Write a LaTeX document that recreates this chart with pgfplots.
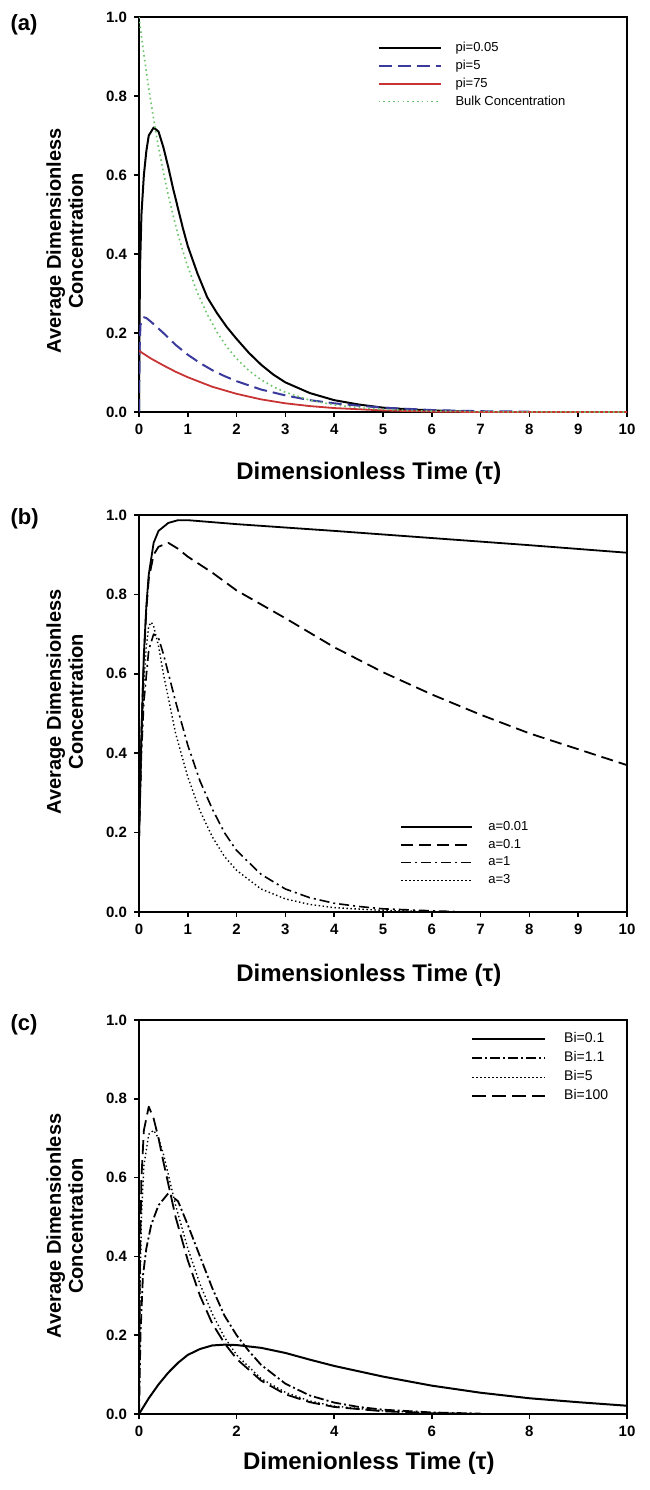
\documentclass[border=0pt]{standalone}
\usepackage{fontspec}
\setmainfont{Liberation Sans}
\usepackage{pgfplots}
\pgfplotsset{compat=1.18}
\definecolor{cblue}{HTML}{3A3A9C}
\definecolor{cred}{HTML}{C83434}
\definecolor{cgreen}{HTML}{6CC46C}
\pgfplotsset{
  panel/.style={
    scale only axis, width=244pt, clip mode=individual,
    xmin=0, xmax=10, ymin=0, ymax=1,
    axis line style={line width=1pt},
    tick style={line width=0.8pt, black},
    major tick length=2.5pt,
    tick align=outside, xtick pos=bottom, ytick pos=left,
    ytick={0,0.2,0.4,0.6,0.8,1.0},
    yticklabel style={/pgf/number format/fixed, /pgf/number format/precision=1, /pgf/number format/fixed zerofill},
    /pgf/number format/assume math mode=true,
    tick label style={font=\fontsize{7.5}{9}\selectfont\bfseries},
    ylabel style={font=\fontsize{10}{11}\selectfont\bfseries, align=center},
    xlabel style={font=\fontsize{12}{13}\selectfont\bfseries},
    legend cell align=left,
    every axis plot/.append style={line join=round},
  },
}
\begin{document}
\begin{tikzpicture}
\path[use as bounding box] (0,0) rectangle (324.5pt,-745pt);
% ---------------- (a)
\begin{axis}[panel, at={(69.5pt,-8.5pt)}, anchor=north west, height=197.5pt,
  xtick={0,1,2,3,4,5,6,7,8,9,10},
  xlabel={Dimensionless Time (τ)},
  xlabel style={at={(axis description cs:0.471,-0.155)}, anchor=center},
  ylabel={Average Dimensionless\\Concentration},
  ylabel style={at={(axis description cs:-0.152,0.433)}, anchor=center, rotate=0},
  legend image code/.code={\draw[#1] (0pt,0pt) -- (31pt,0pt);},
  legend style={draw=none, fill=none, at={(axis description cs:0.488,0.94)}, anchor=north west,
    inner sep=0pt, row sep=2.5pt, column sep=7pt, font=\fontsize{6.5}{7}\selectfont,
    nodes={inner sep=0pt, text height=5pt, text depth=1.5pt}},
]
\addplot[black, line width=1pt] coordinates {(0,0) (0.01,0.2) (0.02,0.36) (0.05,0.5) (0.1,0.6) (0.15,0.66) (0.2,0.7) (0.3,0.72) (0.4,0.71) (0.5,0.67) (0.6,0.62) (0.7,0.565) (0.8,0.515) (0.9,0.465) (1.0,0.42) (1.2,0.35) (1.4,0.29) (1.6,0.25) (1.8,0.215) (2.0,0.185) (2.25,0.15) (2.5,0.12) (2.75,0.095) (3,0.075) (3.5,0.048) (4,0.03) (4.5,0.019) (5,0.011) (5.5,0.007) (6,0.004) (6.7,0.001)};
\addlegendentry{pi=0.05}
\addplot[cblue, line width=1pt, dash pattern=on 6.5pt off 3pt] coordinates {(0,0) (0.01,0.15) (0.03,0.22) (0.1,0.24) (0.15,0.238) (0.25,0.228) (0.5,0.2) (0.75,0.17) (1,0.145) (1.25,0.124) (1.5,0.106) (1.75,0.091) (2,0.078) (2.5,0.057) (3,0.042) (3.5,0.03) (4,0.022) (4.5,0.016) (5,0.011) (5.5,0.008) (6,0.005) (7,0.002) (8,0.001)};
\addlegendentry{pi=5}
\addplot[cred, line width=0.9pt] coordinates {(0,0.155) (0.25,0.135) (0.5,0.118) (0.75,0.102) (1,0.088) (1.5,0.064) (2,0.046) (2.5,0.032) (3,0.022) (3.5,0.015) (4,0.01) (5,0.004) (6,0.001) (7,0) (10,0)};
\addlegendentry{pi=75}
\addplot[cgreen, line width=0.8pt, dash pattern=on 0.8pt off 1.6pt] coordinates {(0,1) (0.05,0.951) (0.1,0.905) (0.2,0.819) (0.3,0.741) (0.4,0.670) (0.5,0.607) (0.6,0.549) (0.7,0.497) (0.8,0.449) (0.9,0.407) (1,0.368) (1.2,0.301) (1.4,0.247) (1.6,0.202) (1.8,0.165) (2,0.135) (2.25,0.105) (2.5,0.082) (2.75,0.064) (3,0.050) (3.5,0.030) (4,0.018) (4.5,0.011) (5,0.0067) (5.5,0.0041) (6,0.0025) (7,0.0009) (8,0.0003) (10,0)};
\addlegendentry{Bulk Concentration}
\node[anchor=west, font=\fontsize{11}{12}\selectfont\bfseries, inner sep=0pt] at (axis description cs:-0.264,0.98) {(a)};
\end{axis}
% ---------------- (b)
\begin{axis}[panel, at={(69.5pt,-257.5pt)}, anchor=north west, height=198.5pt,
  xtick={0,1,2,3,4,5,6,7,8,9,10},
  xlabel={Dimensionless Time (τ)},
  xlabel style={at={(axis description cs:0.471,-0.16)}, anchor=center},
  ylabel={Average Dimensionless\\Concentration},
  ylabel style={at={(axis description cs:-0.152,0.53)}, anchor=center},
  legend image code/.code={\draw[#1] (0pt,0pt) -- (35.5pt,0pt);},
  legend style={draw=none, fill=none, at={(axis description cs:0.535,0.232)}, anchor=north west,
    inner sep=0pt, row sep=2.4pt, column sep=7.5pt, font=\fontsize{6.5}{7}\selectfont,
    nodes={inner sep=0pt, text height=5pt, text depth=1.5pt}},
]
\addplot[black, line width=0.9pt] coordinates {(0,0.18) (0.05,0.45) (0.1,0.65) (0.15,0.77) (0.2,0.85) (0.3,0.93) (0.4,0.96) (0.6,0.98) (0.8,0.987) (1,0.987) (2,0.977) (4,0.96) (6,0.942) (8,0.924) (10,0.905)};
\addlegendentry{a=0.01}
\addplot[black, line width=0.9pt, dash pattern=on 6pt off 3pt] coordinates {(0,0.18) (0.05,0.45) (0.1,0.64) (0.15,0.76) (0.2,0.84) (0.3,0.9) (0.4,0.92) (0.6,0.93) (0.8,0.915) (1,0.895) (1.5,0.855) (2,0.81) (2.5,0.775) (3,0.74) (4,0.667) (5,0.604) (6,0.548) (7,0.497) (8,0.45) (9,0.41) (10,0.37)};
\addlegendentry{a=0.1}
\addplot[black, line width=0.8pt, dash pattern=on 5pt off 2pt on 1pt off 2pt] coordinates {(0,0.18) (0.05,0.4) (0.1,0.53) (0.2,0.66) (0.3,0.7) (0.4,0.69) (0.5,0.65) (0.75,0.53) (1,0.42) (1.25,0.33) (1.5,0.26) (1.75,0.2) (2,0.155) (2.5,0.095) (3,0.058) (3.5,0.036) (4,0.022) (4.5,0.014) (5,0.008) (6,0.003) (6.5,0.001)};
\addlegendentry{a=1}
\addplot[black, line width=0.7pt, dash pattern=on 0.7pt off 1.3pt] coordinates {(0,0.18) (0.05,0.42) (0.1,0.57) (0.15,0.67) (0.2,0.72) (0.25,0.73) (0.3,0.72) (0.4,0.67) (0.5,0.6) (0.75,0.45) (1,0.34) (1.25,0.255) (1.5,0.19) (1.75,0.14) (2,0.105) (2.5,0.058) (3,0.033) (3.5,0.019) (4,0.011) (5,0.004) (6,0.001) (6.5,0)};
\addlegendentry{a=3}
\node[anchor=west, font=\fontsize{11}{12}\selectfont\bfseries, inner sep=0pt] at (axis description cs:-0.264,0.99) {(b)};
\end{axis}
% ---------------- (c)
\begin{axis}[panel, at={(69.5pt,-510pt)}, anchor=north west, height=197pt,
  xtick={0,2,4,6,8,10},
  xlabel={Dimenionless Time (τ)},
  xlabel style={at={(axis description cs:0.471,-0.125)}, anchor=center},
  ylabel={Average Dimensionless\\Concentration},
  ylabel style={at={(axis description cs:-0.152,0.477)}, anchor=center},
  legend image code/.code={\draw[#1] (0pt,0pt) -- (36.5pt,0pt);},
  legend style={draw=none, fill=none, at={(axis description cs:0.68,0.97)}, anchor=north west,
    inner sep=0pt, row sep=2.5pt, column sep=9pt, font=\fontsize{7}{8}\selectfont,
    nodes={inner sep=0pt, text height=5.3pt, text depth=1.7pt}},
]
\addplot[black, line width=1pt] coordinates {(0,0) (0.2,0.04) (0.4,0.075) (0.6,0.105) (0.8,0.13) (1,0.15) (1.25,0.165) (1.5,0.174) (1.75,0.176) (2,0.175) (2.5,0.168) (3,0.155) (3.5,0.138) (4,0.122) (5,0.095) (6,0.072) (7,0.054) (8,0.04) (9,0.03) (10,0.021)};
\addlegendentry{Bi=0.1}
\addplot[black, line width=0.9pt, dash pattern=on 5pt off 1.5pt on 1pt off 1.5pt] coordinates {(0,0) (0.03,0.2) (0.08,0.35) (0.15,0.42) (0.25,0.48) (0.4,0.53) (0.6,0.56) (0.8,0.54) (1,0.48) (1.25,0.4) (1.5,0.32) (1.75,0.25) (2,0.2) (2.25,0.16) (2.5,0.125) (3,0.077) (3.5,0.047) (4,0.029) (4.5,0.018) (5,0.011) (6,0.004) (7,0.001)};
\addlegendentry{Bi=1.1}
\addplot[black, line width=0.7pt, dash pattern=on 0.7pt off 1.3pt] coordinates {(0,0) (0.02,0.3) (0.05,0.5) (0.1,0.63) (0.2,0.71) (0.3,0.72) (0.4,0.7) (0.5,0.66) (0.75,0.53) (1,0.42) (1.25,0.33) (1.5,0.255) (1.75,0.195) (2,0.15) (2.5,0.09) (3,0.055) (3.5,0.033) (4,0.02) (5,0.008) (6,0.003) (7,0)};
\addlegendentry{Bi=5}
\addplot[black, line width=0.9pt, dash pattern=on 7pt off 3pt] coordinates {(0,0) (0.02,0.4) (0.05,0.6) (0.1,0.72) (0.2,0.78) (0.3,0.75) (0.4,0.7) (0.5,0.64) (0.75,0.5) (1,0.39) (1.25,0.3) (1.5,0.23) (1.75,0.18) (2,0.14) (2.5,0.085) (3,0.05) (3.5,0.03) (4,0.018) (5,0.007) (6,0.002) (7,0)};
\addlegendentry{Bi=100}
\node[anchor=west, font=\fontsize{11}{12}\selectfont\bfseries, inner sep=0pt] at (axis description cs:-0.264,0.987) {(c)};
\end{axis}
\end{tikzpicture}
\end{document}
